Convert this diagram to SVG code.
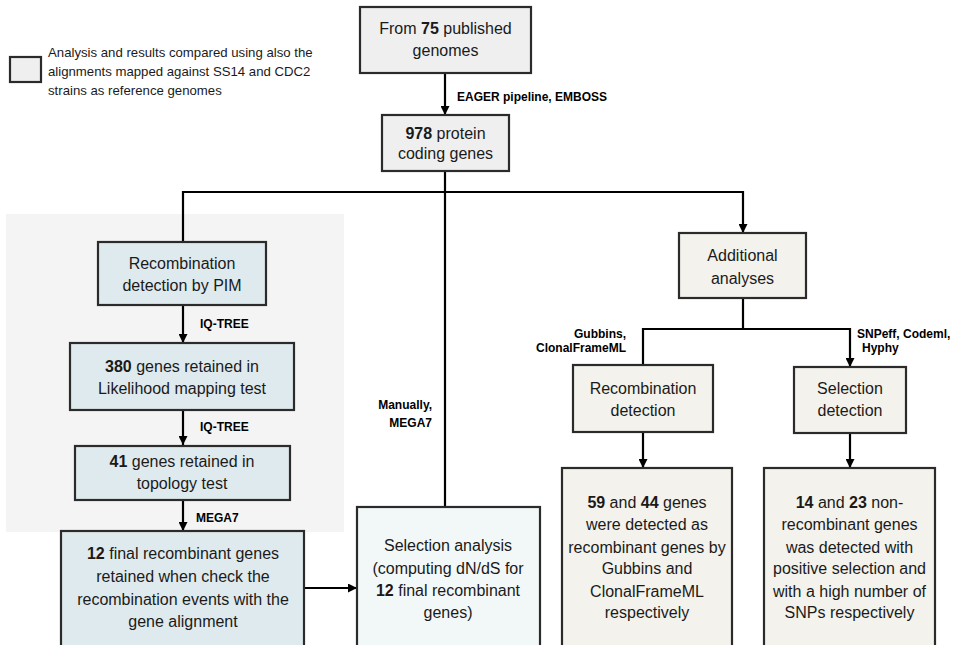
<svg xmlns="http://www.w3.org/2000/svg" width="954" height="645" viewBox="0 0 954 645">
<defs>
<marker id="ah" viewBox="0 0 10 10" refX="10" refY="5" markerWidth="9" markerHeight="9" markerUnits="userSpaceOnUse" orient="auto">
<path d="M0,0 L10,5 L0,10 z" fill="#000"/>
</marker>
<style>
.box{stroke:#2b2b2b;stroke-width:2.2}
.gray{fill:#efefef}
.blue{fill:#dfeaee}
.beige{fill:#f3f2ec}
.mint{fill:#f2f8f8}
.t{font-family:"Liberation Sans",Arial,sans-serif;font-size:16px;fill:#1a1a1a;text-anchor:middle}
.b{font-weight:bold}
.lbl{font-family:"Liberation Sans",Arial,sans-serif;font-size:12px;font-weight:bold;fill:#000}
.leg{font-family:"Liberation Sans",Arial,sans-serif;font-size:13.2px;fill:#1a1a1a}
.c{fill:none;stroke:#000;stroke-width:2.2}
</style>
</defs>
<rect x="6" y="214" width="338" height="318" fill="#f4f4f4"/>
<g id="legend">
<rect x="10" y="57" width="31" height="25" class="box gray"/>
<text class="leg" x="48" y="57">Analysis and results compared using also the</text>
<text class="leg" x="48" y="76">alignments mapped against SS14 and CDC2</text>
<text class="leg" x="48" y="95">strains as reference genomes</text>
</g>
<g id="connectors">
<line class="c" x1="445" y1="73" x2="445" y2="115" marker-end="url(#ah)"/>
<text class="lbl" x="457" y="101">EAGER pipeline, EMBOSS</text>
<line class="c" x1="445" y1="171" x2="445" y2="507"/>
<polyline class="c" points="183,242 183,192 743,192 743,233" marker-end="url(#ah)"/>
<line class="c" x1="183" y1="305" x2="183" y2="343" marker-end="url(#ah)"/>
<text class="lbl" x="200" y="328">IQ-TREE</text>
<line class="c" x1="183" y1="410" x2="183" y2="445" marker-end="url(#ah)"/>
<text class="lbl" x="200" y="431">IQ-TREE</text>
<line class="c" x1="183" y1="500" x2="183" y2="531" marker-end="url(#ah)"/>
<text class="lbl" x="196" y="522">MEGA7</text>
<line class="c" x1="304" y1="588" x2="357" y2="588" marker-end="url(#ah)"/>
<text class="lbl" x="432" y="409" text-anchor="end">Manually,</text>
<text class="lbl" x="432" y="427" text-anchor="end">MEGA7</text>
<line class="c" x1="743" y1="298" x2="743" y2="329"/>
<polyline class="c" points="643,365 643,329 850,329 850,367" marker-end="url(#ah)"/>
<text class="lbl" x="626" y="338" text-anchor="end">Gubbins,</text>
<text class="lbl" x="626" y="352" text-anchor="end">ClonalFrameML</text>
<text class="lbl" x="857" y="338">SNPeff, Codeml,</text>
<text class="lbl" x="862" y="352">Hyphy</text>
<line class="c" x1="643" y1="432" x2="643" y2="468" marker-end="url(#ah)"/>
<line class="c" x1="850" y1="433" x2="850" y2="468" marker-end="url(#ah)"/>
</g>
<g id="n_genomes">
<rect x="360" y="7" width="171" height="66" class="box gray"/>
<text class="t" x="445.5" y="34">From <tspan class="b">75</tspan> published</text>
<text class="t" x="445.5" y="56">genomes</text>
</g>
<g id="n_978">
<rect x="382" y="115" width="127" height="56" class="box gray"/>
<text class="t" x="445.5" y="139"><tspan class="b">978</tspan> protein</text>
<text class="t" x="445.5" y="159">coding genes</text>
</g>
<g id="n_pim">
<rect x="98" y="242" width="168" height="63" class="box blue"/>
<text class="t" x="182" y="269">Recombination</text>
<text class="t" x="182" y="291">detection by PIM</text>
</g>
<g id="n_380">
<rect x="70" y="343" width="224" height="67" class="box blue"/>
<text class="t" x="182" y="372"><tspan class="b">380</tspan> genes retained in</text>
<text class="t" x="182" y="394">Likelihood mapping test</text>
</g>
<g id="n_41">
<rect x="75" y="446" width="215" height="54" class="box blue"/>
<text class="t" x="182" y="467"><tspan class="b">41</tspan> genes retained in</text>
<text class="t" x="182" y="489">topology test</text>
</g>
<g id="n_12">
<rect x="61" y="531" width="243" height="120" class="box blue"/>
<text class="t" x="183" y="559"><tspan class="b">12</tspan> final recombinant genes</text>
<text class="t" x="183" y="582">retained when check the</text>
<text class="t" x="183" y="605">recombination events with the</text>
<text class="t" x="183" y="627">gene alignment</text>
</g>
<g id="n_selanalysis">
<rect x="357" y="507" width="183" height="144" class="box mint"/>
<text class="t" x="448" y="551">Selection analysis</text>
<text class="t" x="448" y="574">(computing dN/dS for</text>
<text class="t" x="448" y="596"><tspan class="b">12</tspan> final recombinant</text>
<text class="t" x="448" y="618">genes)</text>
</g>
<g id="n_additional">
<rect x="679" y="233" width="127" height="65" class="box beige"/>
<text class="t" x="742.5" y="261">Additional</text>
<text class="t" x="742.5" y="284">analyses</text>
</g>
<g id="n_recdet">
<rect x="573" y="365" width="140" height="67" class="box beige"/>
<text class="t" x="643" y="394">Recombination</text>
<text class="t" x="643" y="416">detection</text>
</g>
<g id="n_seldet">
<rect x="794" y="367" width="112" height="66" class="box beige"/>
<text class="t" x="850" y="394">Selection</text>
<text class="t" x="850" y="416">detection</text>
</g>
<g id="n_59">
<rect x="562" y="468" width="170" height="183" class="box beige"/>
<text class="t" x="647" y="508"><tspan class="b">59</tspan> and <tspan class="b">44</tspan> genes</text>
<text class="t" x="647" y="530">were detected as</text>
<text class="t" x="647" y="553">recombinant genes by</text>
<text class="t" x="647" y="574">Gubbins and</text>
<text class="t" x="647" y="597">ClonalFrameML</text>
<text class="t" x="647" y="618">respectively</text>
</g>
<g id="n_14">
<rect x="764" y="468" width="171" height="183" class="box beige"/>
<text class="t" x="849.5" y="508"><tspan class="b">14</tspan> and <tspan class="b">23</tspan> non-</text>
<text class="t" x="849.5" y="530">recombinant genes</text>
<text class="t" x="849.5" y="553">was detected with</text>
<text class="t" x="849.5" y="574">positive selection and</text>
<text class="t" x="849.5" y="597">with a high number of</text>
<text class="t" x="849.5" y="618">SNPs respectively</text>
</g>
</svg>
